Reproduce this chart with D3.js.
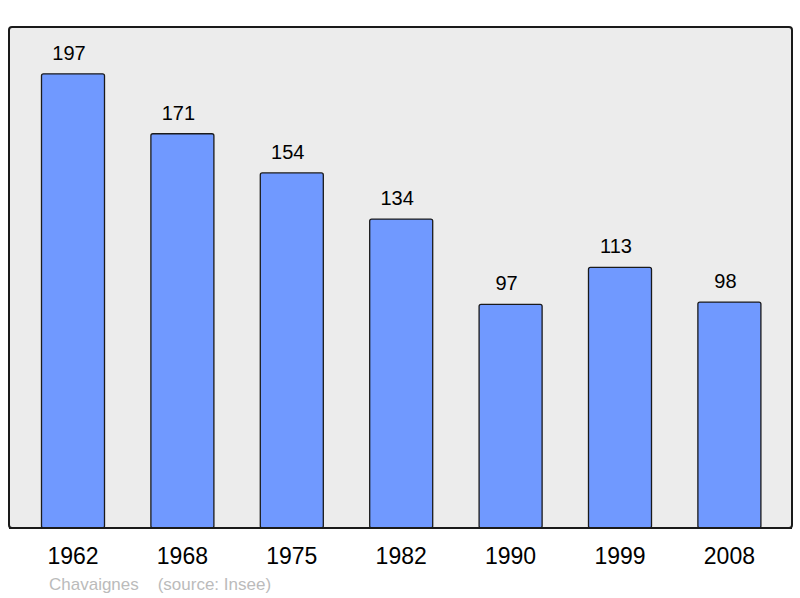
<!DOCTYPE html>
<html><head><meta charset="utf-8">
<script src="https://cdn.jsdelivr.net/npm/d3@7"></script>
<style>body{margin:0;background:#fff;} svg{display:block;}</style>
</head><body>
<script>
const years = ["1962","1968","1975","1982","1990","1999","2008"];
const population = [197,171,154,134,97,113,98];
const placeName = "Chavaignes";
const sourceText = "(source: Insee)";

const W = 800, H = 598;
const svg = d3.select("body").append("svg").attr("width", W).attr("height", H);
const frame = {x0: 9, y0: 27, x1: 792, y1: 528};

svg.append("rect").attr("x", frame.x0).attr("y", frame.y0)
  .attr("width", frame.x1 - frame.x0).attr("height", frame.y1 - frame.y0)
  .attr("rx", 3).attr("fill", "#ececec").attr("stroke", "#1a1a1a").attr("stroke-width", 2);

const x = d3.scaleBand().domain(years).range([18.3, 784.1]).paddingInner(0.424).paddingOuter(0.212);
const y = d3.scaleLinear().domain([0, 217.3]).range([frame.y1, frame.y0]);

const data = years.map((yr, i) => ({yr, v: population[i]}));

svg.append("g").selectAll("rect").data(data).join("rect")
  .attr("x", d => x(d.yr)).attr("y", d => y(d.v))
  .attr("width", x.bandwidth()).attr("height", d => y(0) - y(d.v))
  .attr("rx", 2)
  .attr("fill", "#7099ff").attr("stroke", "#1a1a1a").attr("stroke-width", 1.3);

svg.append("line").attr("x1", frame.x0).attr("x2", frame.x1).attr("y1", frame.y1).attr("y2", frame.y1)
  .attr("stroke", "#1a1a1a").attr("stroke-width", 2);

svg.append("g").selectAll("text").data(data).join("text")
  .attr("x", d => x(d.yr) + x.bandwidth()/2 - 4).attr("y", d => y(d.v) - 14)
  .attr("text-anchor", "middle").attr("font-family", "Liberation Sans, Arial, sans-serif")
  .attr("font-size", 20).attr("fill", "#000").text(d => d.v);

svg.append("g").selectAll("text").data(years).join("text")
  .attr("x", d => x(d) + x.bandwidth()/2).attr("y", 564)
  .attr("text-anchor", "middle").attr("font-family", "Liberation Sans, Arial, sans-serif")
  .attr("font-size", 23).attr("fill", "#000").text(d => d);

svg.append("text").attr("x", 49).attr("y", 590)
  .attr("font-family", "Liberation Sans, Arial, sans-serif").attr("font-size", 17)
  .attr("fill", "#bbbbbb").attr("xml:space", "preserve")
  .text(placeName + "    " + sourceText);
</script>
</body></html>
